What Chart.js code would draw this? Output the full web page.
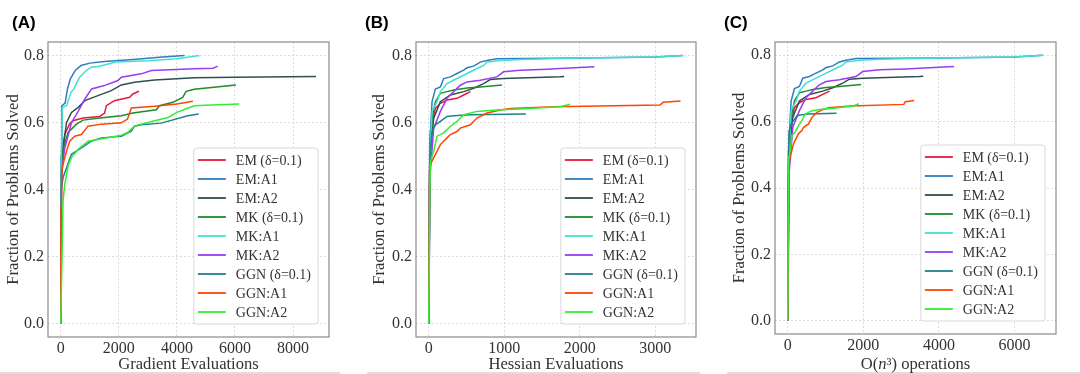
<!DOCTYPE html>
<html>
<head>
<meta charset="utf-8">
<script src="https://cdn.jsdelivr.net/npm/chart.js@4/dist/chart.umd.min.js"></script>
<style>
  html, body { margin: 0; padding: 0; background: #fff; }
  #wrap { position: relative; width: 1080px; height: 374px; overflow: hidden; }
  .panel { position: absolute; top: 0; width: 360px; height: 374px; }
  .tag { position: absolute; top: 14px; font: bold 17px "Liberation Sans", Arial, sans-serif; color: #000; line-height: 17px; }
  .rule { position: absolute; top: 372px; height: 2px; background: #dedede; }
</style>
</head>
<body>
<div id="wrap">
  <div class="rule" style="left:0;width:340px"></div>
  <div class="rule" style="left:367px;width:333px"></div>
  <div class="rule" style="left:727px;width:353px"></div>
  <div class="panel" style="left:0"><canvas id="chartA" width="360" height="374"></canvas></div>
  <div class="panel" style="left:360px"><canvas id="chartB" width="360" height="374"></canvas></div>
  <div class="panel" style="left:720px"><canvas id="chartC" width="360" height="374"></canvas></div>
  <div class="tag" style="left:12px">(A)</div>
  <div class="tag" style="left:365px">(B)</div>
  <div class="tag" style="left:724px">(C)</div>
</div>
<script>
// series names + colours (legend order)
var LABELS = ["EM (δ=0.1)", "EM:A1", "EM:A2", "MK (δ=0.1)", "MK:A1", "MK:A2", "GGN (δ=0.1)", "GGN:A1", "GGN:A2"];
var COLORS = ["#e41a3c", "#2e7dc0", "#2f4f4f", "#1f8b2a", "#40e0d0", "#9a3cf0", "#20808c", "#ff4500", "#33ee33"];

var Y_TICKS = [0, 0.2, 0.4, 0.6, 0.8];
var GRAD_TICKS = [0, 2000, 4000, 6000, 8000];
var HESS_TICKS = [0, 1000, 2000, 3000];
var OPS_TICKS = [0, 2000, 4000, 6000];

// (A) gradient evaluations, [x, fraction solved]
var gradEMd = [[0,0],[15,0.40],[60,0.50],[140,0.565],[300,0.595],[420,0.605],[770,0.613],[1340,0.618],[1510,0.628],[1570,0.65],[1850,0.665],[2370,0.675],[2485,0.685],[2690,0.693]];
var gradEMA1 = [[0,0],[10,0.5],[40,0.65],[150,0.658],[230,0.70],[330,0.73],[500,0.755],[700,0.77],[1000,0.777],[1500,0.782],[2500,0.788],[3500,0.795],[4260,0.80]];
var gradEMA2 = [[0,0],[20,0.44],[100,0.54],[200,0.60],[370,0.63],[600,0.645],[830,0.665],[1280,0.68],[1740,0.695],[2085,0.712],[2540,0.72],[3230,0.727],[4600,0.733],[6000,0.735],[8790,0.737]];
var gradMKd = [[0,0],[20,0.45],[80,0.52],[250,0.57],[540,0.595],[770,0.607],[1340,0.613],[2085,0.62],[2485,0.628],[3290,0.638],[3400,0.65],[3860,0.66],[4200,0.675],[4320,0.693],[4600,0.699],[6036,0.712]];
var gradMKA1 = [[0,0],[15,0.5],[60,0.645],[200,0.65],[350,0.69],[450,0.70],[650,0.735],[880,0.755],[1050,0.765],[1340,0.768],[1900,0.78],[3000,0.784],[4000,0.79],[4776,0.80]];
var gradMKA2 = [[0,0],[30,0.45],[130,0.52],[370,0.60],[600,0.633],[830,0.67],[1060,0.70],[1500,0.71],[1970,0.725],[2085,0.735],[2770,0.745],[3120,0.755],[4600,0.76],[5250,0.762],[5405,0.768]];
var gradGGNd = [[0,0],[20,0.40],[79,0.436],[367,0.505],[710,0.524],[1055,0.544],[1398,0.554],[2085,0.559],[2429,0.574],[2543,0.589],[2772,0.593],[3460,0.598],[4374,0.62],[4752,0.625]];
var gradGGNA1 = [[0,0],[10,0.35],[30,0.45],[79,0.475],[196,0.514],[309,0.544],[481,0.559],[710,0.564],[939,0.589],[1400,0.595],[2085,0.599],[2300,0.61],[2430,0.643],[3230,0.648],[4000,0.655],[4550,0.663]];
var gradGGNA2 = [[0,0],[79,0.366],[137,0.416],[250,0.47],[367,0.495],[600,0.52],[939,0.544],[1282,0.549],[2085,0.562],[2300,0.57],[2543,0.59],[3230,0.605],[3700,0.615],[4000,0.63],[4300,0.64],[4604,0.65],[5200,0.652],[6150,0.655]];

// (B) hessian evaluations
var hessEMd = [[0,0],[10,0.45],[22,0.573],[88,0.642],[154,0.657],[242,0.667],[374,0.672],[463,0.682],[551,0.692]];
var hessEMA1 = [[0,0],[13,0.53],[44,0.662],[88,0.70],[154,0.706],[198,0.731],[286,0.736],[374,0.746],[463,0.756],[507,0.763],[595,0.768],[683,0.78],[771,0.785],[903,0.79],[2000,0.792],[3000,0.795],[3365,0.80]];
var hessEMA2 = [[0,0],[15,0.5],[66,0.613],[154,0.662],[286,0.682],[463,0.692],[595,0.702],[727,0.716],[815,0.728],[991,0.731],[1740,0.736],[1793,0.737]];
var hessMKd = [[0,0],[15,0.5],[50,0.62],[88,0.662],[154,0.687],[242,0.692],[330,0.697],[507,0.703],[683,0.706],[969,0.712]];
var hessMKA1 = [[0,0],[15,0.5],[44,0.633],[110,0.662],[154,0.692],[242,0.716],[374,0.731],[507,0.746],[639,0.761],[727,0.77],[771,0.78],[947,0.785],[1211,0.788],[2000,0.792],[3000,0.795],[3368,0.80]];
var hessMKA2 = [[0,0],[20,0.45],[66,0.583],[154,0.633],[242,0.672],[330,0.692],[418,0.711],[507,0.721],[683,0.726],[903,0.736],[991,0.751],[1211,0.756],[1564,0.759],[1740,0.761],[2193,0.766]];
var hessGGNd = [[0,0],[15,0.5],[44,0.573],[88,0.593],[154,0.603],[242,0.618],[330,0.62],[551,0.623],[1286,0.625]];
var hessGGNA1 = [[0,0],[10,0.40],[22,0.475],[66,0.495],[110,0.514],[154,0.534],[242,0.554],[286,0.564],[374,0.573],[418,0.583],[551,0.593],[639,0.613],[771,0.628],[947,0.637],[1079,0.642],[1652,0.647],[3060,0.652],[3104,0.66],[3334,0.664]];
var hessGGNA2 = [[0,0],[13,0.357],[22,0.485],[66,0.514],[110,0.559],[198,0.569],[286,0.588],[374,0.603],[463,0.623],[639,0.633],[903,0.637],[1211,0.64],[1740,0.647],[1872,0.654]];

// (C) O(n^3) operations
var opsEMd = [[0,0],[20,0.45],[44,0.573],[176,0.642],[308,0.657],[484,0.667],[748,0.672],[926,0.682],[1107,0.692]];
var opsEMA1 = [[0,0],[26,0.53],[88,0.662],[176,0.70],[308,0.706],[396,0.731],[572,0.736],[748,0.746],[926,0.756],[1014,0.763],[1190,0.768],[1366,0.78],[1542,0.785],[1806,0.79],[4000,0.792],[6000,0.795],[6754,0.80]];
var opsEMA2 = [[0,0],[30,0.5],[132,0.613],[308,0.662],[572,0.682],[926,0.692],[1190,0.702],[1454,0.716],[1630,0.728],[1982,0.731],[3480,0.736],[3584,0.737]];
var opsMKd = [[0,0],[30,0.5],[100,0.62],[176,0.662],[308,0.687],[484,0.692],[660,0.697],[1014,0.703],[1366,0.706],[1942,0.712]];
var opsMKA1 = [[0,0],[30,0.5],[88,0.633],[220,0.662],[308,0.692],[484,0.716],[748,0.731],[1014,0.746],[1278,0.761],[1454,0.77],[1542,0.78],[1894,0.785],[2422,0.788],[4000,0.792],[6000,0.795],[6760,0.80]];
var opsMKA2 = [[0,0],[40,0.45],[132,0.583],[308,0.633],[484,0.672],[660,0.692],[836,0.711],[1014,0.721],[1366,0.726],[1806,0.736],[1982,0.751],[2422,0.756],[3128,0.759],[3480,0.761],[4400,0.766]];
var opsGGNd = [[0,0],[15,0.5],[44,0.573],[88,0.593],[154,0.603],[242,0.618],[330,0.62],[551,0.623],[1290,0.625]];
var opsGGNA1 = [[0,0],[10,0.40],[22,0.475],[66,0.495],[110,0.514],[154,0.534],[242,0.554],[286,0.564],[374,0.573],[418,0.583],[551,0.593],[639,0.613],[771,0.628],[947,0.637],[1079,0.642],[1652,0.647],[3070,0.652],[3110,0.66],[3346,0.664]];
var opsGGNA2 = [[0,0],[13,0.357],[22,0.485],[66,0.514],[110,0.559],[198,0.569],[286,0.588],[374,0.603],[463,0.623],[639,0.633],[903,0.637],[1211,0.64],[1740,0.647],[1879,0.654]];

var SERIF = "'Liberation Serif', 'Times New Roman', serif";
var INK = "#333";
var TITLE_SIZE = 16.6;

// spine box, x title with italic pieces, matplotlib-style legend lower right
var frameLegend = {
    id: "frameLegend",
    afterDatasetsDraw: function (chart, args, opts) {
        var ctx = chart.ctx;
        var area = chart.chartArea;
        var sets = chart.data.datasets;
        var tw = 0, rowH = 19, w, h, x, y, total = 0, tx;

        ctx.save();
        ctx.strokeStyle = "#8a8a8a";
        ctx.lineWidth = 1.2;
        ctx.strokeRect(area.left, area.top, area.right - area.left, area.bottom - area.top);

        // x axis title, pieces: [text, italic]
        ctx.fillStyle = INK;
        ctx.textBaseline = "middle";
        ctx.textAlign = "left";
        opts.title.forEach(function (p) {
            ctx.font = (p[1] ? "italic " : "") + TITLE_SIZE + "px " + SERIF;
            total += ctx.measureText(p[0]).width;
        });
        tx = (area.left + area.right) / 2 - total / 2;
        opts.title.forEach(function (p) {
            ctx.font = (p[1] ? "italic " : "") + TITLE_SIZE + "px " + SERIF;
            ctx.fillText(p[0], tx, opts.titleY);
            tx += ctx.measureText(p[0]).width;
        });

        ctx.font = "14px " + SERIF;
        sets.forEach(function (d) {
            tw = Math.max(tw, ctx.measureText(d.label).width);
        });
        w = 4 + 28 + 10 + tw + 7;
        h = 12 + (sets.length - 1) * rowH + 12;
        x = area.right - 11 - w;
        y = area.bottom - 13 - h;

        ctx.beginPath();
        ctx.roundRect(x, y, w, h, 3);
        ctx.fillStyle = "rgba(255,255,255,0.85)";
        ctx.fill();
        ctx.strokeStyle = "#d9d9d9";
        ctx.lineWidth = 1;
        ctx.stroke();

        sets.forEach(function (d, i) {
            var cy = y + 12 + i * rowH;
            ctx.beginPath();
            ctx.moveTo(x + 4, cy);
            ctx.lineTo(x + 32, cy);
            ctx.strokeStyle = d.borderColor;
            ctx.lineWidth = 1.8;
            ctx.stroke();
            ctx.fillStyle = INK;
            ctx.fillText(d.label, x + 42, cy + 1);
        });
        ctx.restore();
    }
};

function toPoints(pairs) {
    return pairs.map(function (p) {
        return { x: p[0], y: p[1] };
    });
}

function renderPanel(canvasId, series, xMax, xTicks, xTitle, box) {
    var pad = xMax * 0.05;
    var datasets = series.map(function (pairs, i) {
        return {
            label: LABELS[i],
            data: toPoints(pairs),
            borderColor: COLORS[i],
            borderWidth: 1.5,
            pointRadius: 0,
            tension: 0,
            order: series.length - i
        };
    });
    var gridStyle = { color: "#d4d4d4", drawTicks: false, lineWidth: 0.8 };

    return new Chart(document.getElementById(canvasId).getContext("2d"), {
        type: "line",
        data: { datasets: datasets },
        plugins: [frameLegend],
        options: {
            responsive: false,
            animation: false,
            events: [],
            layout: { padding: { left: box.left, right: box.right, top: 42, bottom: 0 } },
            plugins: {
                legend: { display: false },
                tooltip: { enabled: false },
                frameLegend: { title: xTitle, titleY: 364.5 }
            },
            scales: {
                x: {
                    type: "linear",
                    min: -pad,
                    max: xMax + pad,
                    afterFit: function (scale) { scale.height = box.xh; },
                    afterBuildTicks: function (scale) {
                        scale.ticks = xTicks.map(function (v) { return { value: v }; });
                    },
                    border: { display: false, dash: [2, 2] },
                    grid: gridStyle,
                    ticks: {
                        color: INK,
                        padding: 2,
                        maxRotation: 0,
                        font: { family: SERIF, size: 16 },
                        callback: function (v) { return String(v); }
                    },
                    title: { display: false }
                },
                y: {
                    min: -0.04,
                    max: 0.84,
                    afterFit: function (scale) { scale.width = box.yw; },
                    afterBuildTicks: function (scale) {
                        scale.ticks = Y_TICKS.map(function (v) { return { value: v }; });
                    },
                    border: { display: false, dash: [2, 2] },
                    grid: gridStyle,
                    ticks: {
                        color: INK,
                        padding: 4,
                        font: { family: SERIF, size: 16 },
                        callback: function (v) { return Number(v).toFixed(1); }
                    },
                    title: {
                        display: true,
                        text: "Fraction of Problems Solved",
                        color: INK,
                        padding: { top: 4, bottom: 0 },
                        font: { family: SERIF, size: TITLE_SIZE }
                    }
                }
            }
        }
    });
}

renderPanel("chartA",
    [gradEMd, gradEMA1, gradEMA2, gradMKd, gradMKA1, gradMKA2, gradGGNd, gradGGNA1, gradGGNA2],
    8800, GRAD_TICKS, [["Gradient Evaluations", false]], { left: 0, right: 31, yw: 48, xh: 37 });
renderPanel("chartB",
    [hessEMd, hessEMA1, hessEMA2, hessMKd, hessMKA1, hessMKA2, hessGGNd, hessGGNA1, hessGGNA2],
    3370, HESS_TICKS, [["Hessian Evaluations", false]], { left: 6, right: 24, yw: 50, xh: 37 });
renderPanel("chartC",
    [opsEMd, opsEMA1, opsEMA2, opsMKd, opsMKA1, opsMKA2, opsGGNd, opsGGNA1, opsGGNA2],
    6760, OPS_TICKS, [["O(", false], ["n", true], ["³) operations", false]], { left: 6, right: 24, yw: 49, xh: 40 });
</script>
</body>
</html>
